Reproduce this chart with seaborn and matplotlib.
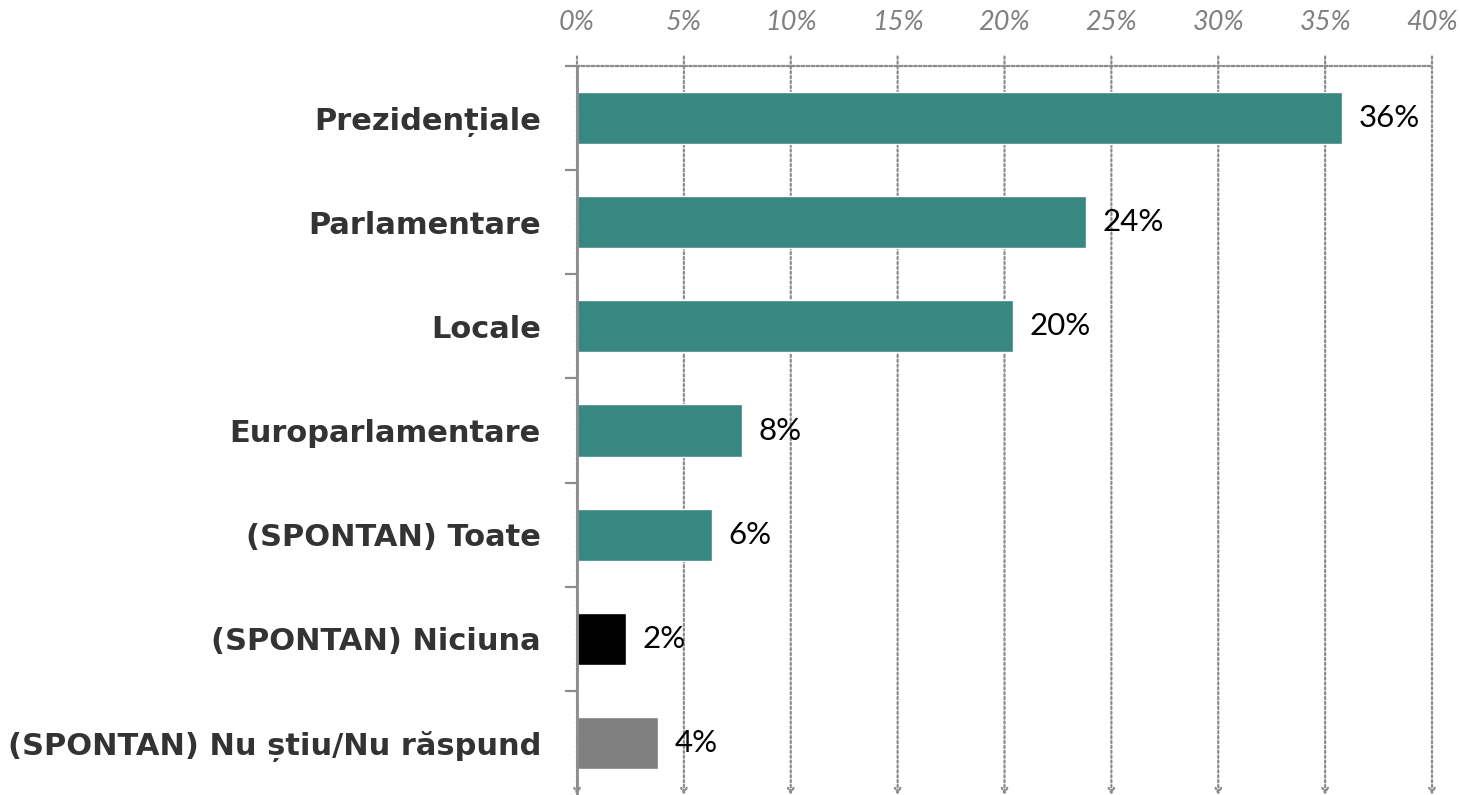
import matplotlib
matplotlib.use('Agg')
import matplotlib.pyplot as plt
import seaborn as sns
import numpy as np
from matplotlib.ticker import FixedLocator

# ── Data ──────────────────────────────────────────────
categories = ['Prezidențiale', 'Parlamentare', 'Locale', 'Europarlamentare',
              '(SPONTAN) Toate', '(SPONTAN) Niciuna', '(SPONTAN) Nu știu/Nu răspund']
values = [35.8, 23.8, 20.4, 7.7, 6.3, 2.3, 3.8]
value_labels = ['36%', '24%', '20%', '8%', '6%', '2%', '4%']
bar_colors = ['#388781', '#388781', '#388781', '#388781', '#388781', '#000000', '#808080']
x_ticks = [0, 5, 10, 15, 20, 25, 30, 35, 40]
x_tick_labels = [f'{t}%' for t in x_ticks]

sns.set_style('white')
plt.rcParams['font.family'] = ['DejaVu Sans']

fig = plt.figure(figsize=(14.6, 7.95), dpi=100)
ax = fig.add_axes([577 / 1460, 0.0, (1432 - 577) / 1460, 1 - 66 / 795])

sns.barplot(x=values, y=categories, hue=categories, palette=bar_colors,
            orient='h', width=0.5, legend=False, ax=ax, saturation=1)

ax.set_xlim(0, 40)
ax.set_ylim(6.5, -0.5)

# ── Gridlines with arrow ends ─────────────────────────
for t in x_ticks:
    ax.annotate('', xy=(t, 0.0), xytext=(t, 1.013),
                xycoords=('data', 'axes fraction'),
                textcoords=('data', 'axes fraction'),
                arrowprops=dict(arrowstyle='->,head_length=0.35,head_width=0.2',
                                color='#8c8c8c', lw=1.6, linestyle=(0, (1, 1.2)),
                                shrinkA=0, shrinkB=0),
                annotation_clip=False, zorder=0)

# ── Spines ────────────────────────────────────────────
for s in ['right', 'bottom']:
    ax.spines[s].set_visible(False)
ax.spines['top'].set_linestyle((0, (1, 1.2)))
ax.spines['top'].set_color('#8c8c8c')
ax.spines['top'].set_linewidth(1.6)
ax.spines['left'].set_color('#8c8c8c')
ax.spines['left'].set_linewidth(2)
ax.spines['left'].set_zorder(5)

# ── Ticks ─────────────────────────────────────────────
ax.xaxis.tick_top()
ax.set_xticks(x_ticks)
ax.set_xticklabels(x_tick_labels, fontfamily='Lato', fontstyle='italic',
                   fontsize=19.5, color='#808080')
ax.tick_params(axis='x', length=0, pad=22)

ax.set_yticks(range(len(categories)))
ax.set_yticklabels(categories, fontweight='bold', fontsize=22, color='#333333')
ax.yaxis.set_minor_locator(FixedLocator(np.arange(-0.5, 6.0, 1.0)))
ax.tick_params(axis='y', which='major', length=0, pad=26)
ax.tick_params(axis='y', which='minor', length=9, width=1.6, color='#8c8c8c', left=True)
ax.set_xlabel('')
ax.set_ylabel('')

# ── Value labels ──────────────────────────────────────
for cont in ax.containers:
    ax.bar_label(cont, labels=[value_labels[int(round(b.get_y() + b.get_height() / 2))]
                               for b in cont],
                 padding=12, fontsize=22.5, fontfamily='Lato', color='black')

fig.savefig('out.png', dpi=100)
